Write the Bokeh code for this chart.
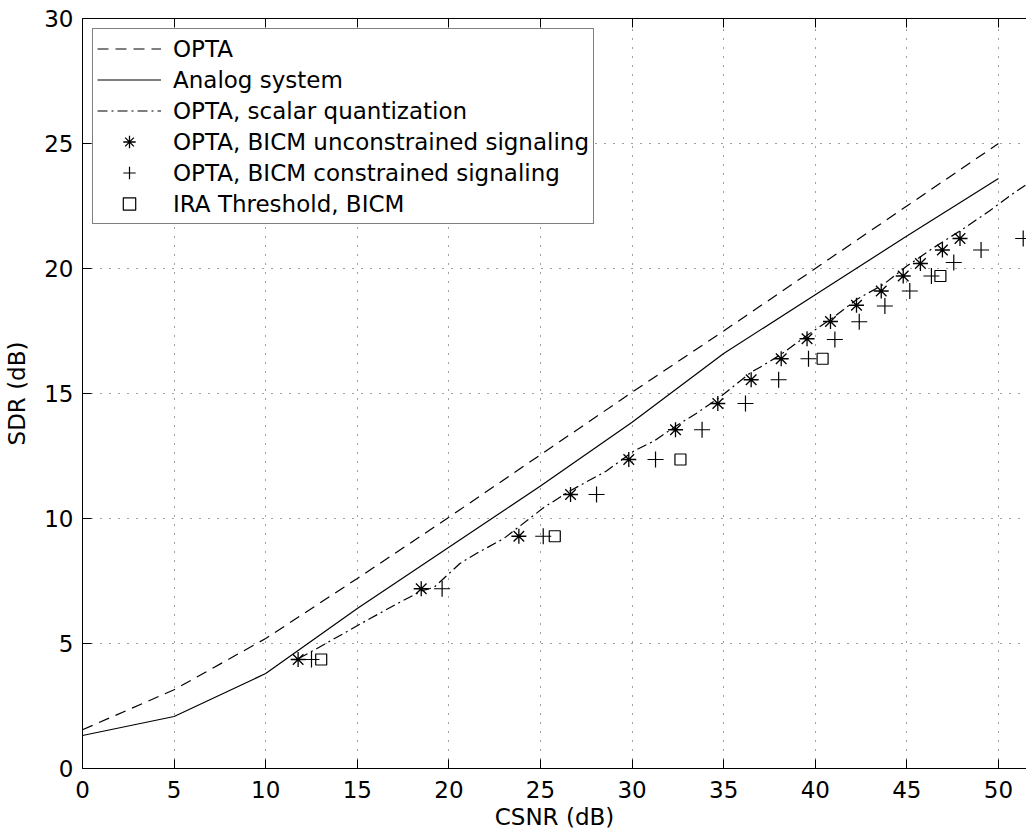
from bokeh.plotting import figure
from bokeh.models import Range1d, LinearAxis, Legend, LegendItem, FixedTicker
from bokeh.embed import file_html
from bokeh.resources import INLINE

# ---- data ----
csnr_line = [0, 5, 10, 15, 20, 25, 30, 35, 40, 45, 50]
opta = [1.55, 3.15, 5.2, 7.6, 10.05, 12.55, 15.05, 17.5, 20.0, 22.5, 25.0]
analog = [1.32, 2.08, 3.8, 6.4, 8.85, 11.3, 13.85, 16.6, 18.95, 21.3, 23.6]

sq_x = [11.8, 12.8, 14.25, 15.7, 17.2, 18.5, 19.2, 20.6, 21.5, 23.0, 25.2, 26.6, 28.6, 30.1,
        31.2, 32.4, 33.5, 34.7, 36.5, 37.1, 38.2, 39.6, 41.0, 42.3, 43.7, 45.0, 46.5, 48.0,
        49.5, 50.65, 51.5]
sq_y = [4.4, 4.8, 5.4, 6.0, 6.6, 7.1, 7.25, 8.2, 8.6, 9.2, 10.45, 11.1, 11.9, 12.7,
        13.1, 13.7, 14.2, 14.8, 15.85, 16.1, 16.6, 17.35, 18.05, 18.78, 19.35, 20.1, 20.85, 21.55,
        22.3, 22.92, 23.35]

unc_x = [11.77, 18.49, 23.82, 26.64, 29.82, 32.37, 34.68, 36.5, 38.14, 39.55, 40.83, 42.25,
         43.6, 44.8, 45.74, 46.94, 47.9]
unc_y = [4.36, 7.19, 9.29, 10.96, 12.36, 13.55, 14.6, 15.55, 16.39, 17.19, 17.88, 18.53,
         19.1, 19.7, 20.2, 20.74, 21.2]

con_x = [12.5, 19.63, 25.15, 28.06, 31.28, 33.82, 36.19, 38.0, 39.63, 41.07, 42.4, 43.8,
         45.16, 46.34, 47.56, 49.05, 51.35]
con_y = [4.36, 7.19, 9.29, 10.96, 12.36, 13.55, 14.6, 15.55, 16.39, 17.16, 17.87, 18.5,
         19.1, 19.7, 20.24, 20.74, 21.2]

ira_x = [13.03, 25.78, 32.64, 40.4, 46.83]
ira_y = [4.36, 9.29, 12.36, 16.39, 19.7]

x_ticks = [0, 5, 10, 15, 20, 25, 30, 35, 40, 45, 50]
y_ticks = [0, 5, 10, 15, 20, 25, 30]

FONT = "DejaVu Sans"
FS = "23px"

p = figure(width=1026, height=834, x_range=Range1d(0, 51.53), y_range=Range1d(0, 30),
           output_backend="svg", toolbar_location=None,
           min_border_left=82, min_border_right=0, min_border_top=18, min_border_bottom=66)
p.outline_line_color = None
p.background_fill_color = "white"

for ax in [p.xaxis[0], p.yaxis[0]]:
    ax.major_tick_in = 9
    ax.major_tick_out = 0
    ax.minor_tick_in = 0
    ax.minor_tick_out = 0
    ax.axis_line_color = "black"
    ax.major_tick_line_color = "black"
    ax.major_label_text_font = FONT
    ax.major_label_text_font_size = FS
    ax.major_label_text_color = "black"
    ax.axis_label_text_font = FONT
    ax.axis_label_text_font_size = FS
    ax.axis_label_text_font_style = "normal"
    ax.axis_label_text_color = "black"

p.xaxis.ticker = FixedTicker(ticks=x_ticks)
p.yaxis.ticker = FixedTicker(ticks=y_ticks)
p.xaxis.axis_label = "CSNR (dB)"
p.yaxis.axis_label = "SDR (dB)"
p.xaxis.major_label_standoff = 12
p.xaxis.axis_label_standoff = 3
p.yaxis.major_label_standoff = 9
p.yaxis.axis_label_standoff = 11

top = LinearAxis(ticker=FixedTicker(ticks=x_ticks),
                 major_label_overrides={t: "" for t in x_ticks},
                 major_tick_in=9, major_tick_out=0, minor_tick_in=0, minor_tick_out=0,
                 major_label_standoff=0, axis_line_color="black", major_tick_line_color="black")
p.add_layout(top, "above")

for g in [p.xgrid[0], p.ygrid[0]]:
    g.grid_line_color = "black"
    g.grid_line_dash = "1 8"
    g.grid_line_alpha = 0.75
    g.grid_line_width = 1
p.xgrid.ticker = FixedTicker(ticks=x_ticks)
p.ygrid.ticker = FixedTicker(ticks=y_ticks)

r_opta = p.line(csnr_line, opta, line_color="black", line_width=1.2, line_dash="11 7")
r_analog = p.line(csnr_line, analog, line_color="black", line_width=1.2)
r_sq = p.line(sq_x, sq_y, line_color="black", line_width=1.2, line_dash="10 4 2 4")
r_unc = p.scatter(unc_x, unc_y, marker="asterisk", size=15, line_color="black", line_width=1.3)
r_con = p.scatter(con_x, con_y, marker="cross", size=16, line_color="black", line_width=1.2)
r_ira = p.scatter(ira_x, ira_y, marker="square", size=11, line_color="black", fill_color=None,
                  line_width=1.2)

legend = Legend(items=[
    LegendItem(label="OPTA", renderers=[r_opta]),
    LegendItem(label="Analog system", renderers=[r_analog]),
    LegendItem(label="OPTA, scalar quantization", renderers=[r_sq]),
    LegendItem(label="OPTA, BICM unconstrained signaling", renderers=[r_unc]),
    LegendItem(label="OPTA, BICM constrained signaling", renderers=[r_con]),
    LegendItem(label="IRA Threshold, BICM", renderers=[r_ira]),
], location="top_left")
legend.margin = 10
legend.padding = 4
legend.spacing = 0
legend.glyph_width = 64
legend.glyph_height = 31
legend.label_height = 31
legend.label_standoff = 12
legend.label_text_font = FONT
legend.label_text_font_size = FS
legend.label_text_color = "black"
legend.border_line_color = "black"
legend.border_line_width = 1
legend.background_fill_color = "white"
legend.background_fill_alpha = 1.0
p.add_layout(legend)

open("out.html", "w").write(file_html(p, INLINE))
